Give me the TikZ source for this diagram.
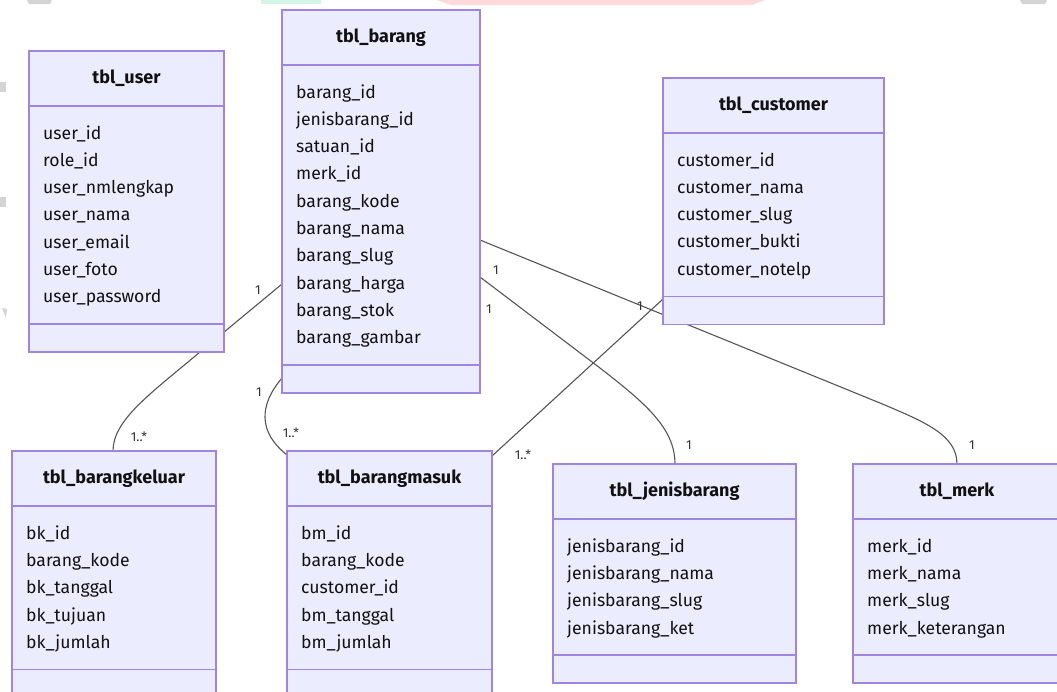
\documentclass[tikz,border=0pt]{standalone}
\usepackage{fontspec}
\setmainfont{Fira Sans}
\usetikzlibrary{calc}
\definecolor{entfill}{HTML}{ECECFF}
\definecolor{entborder}{HTML}{9F84E0}
\definecolor{reltext}{HTML}{333333}
\definecolor{relline}{HTML}{555555}
\definecolor{txt}{HTML}{111111}
\definecolor{wmgray}{HTML}{D4D4D4}
\definecolor{wmgreen}{HTML}{D2F5E8}
\definecolor{wmpink}{HTML}{FFDADA}
\pgfdeclarelayer{background}
\pgfsetlayers{background,main}
\tikzset{
  entity/.style={draw=entborder, fill=entfill, line width=1.3pt, inner sep=0pt, outer sep=0pt},
  divider/.style={draw=entborder, line width=1.3pt},
  entitle/.style={font=\bfseries\fontsize{18}{21}\selectfont, text=txt, inner sep=0pt, text height=12pt, text depth=2pt},
  attr/.style={font=\fontsize{17.6}{21}\selectfont, text=txt, inner sep=0pt, anchor=west, text height=12pt, text depth=0pt},
  rel/.style={draw=relline, line width=1.1pt},
  card/.style={font=\fontsize{13}{15}\selectfont, text=reltext, inner sep=0pt}
}
% one table: name, left, top, right, title, number of columns, columns
\newcommand\erentity[7]{%
  \pgfmathsetmacro\eHead{#3+55}%
  \pgfmathsetmacro\eAttr{#3+55+54+(#6-1)*27.33}%
  \pgfmathsetmacro\eBot{\eAttr+28}%
  \node[entity, anchor=north west, minimum width={(#4-#2)*1pt}, minimum height={(\eBot-#3)*1pt}] (#1) at (#2,#3) {};
  \draw[divider] (#2,\eHead) -- (#4,\eHead);
  \draw[divider] (#2,\eAttr) -- (#4,\eAttr);
  \node[entitle] (#1-title) at ({(#2+#4)/2},#3+27) {#5};
  \foreach \f [count=\i] in {#7} {
    \node[attr] (#1-a\i) at (#2+14,{#3+55+27+(\i-1)*27.33}) {\f};
  }%
}
\begin{document}
\begin{tikzpicture}[x=1pt,y=-1pt]
\useasboundingbox (0,0) rectangle (1057,691);
\clip (0,0) rectangle (1057,691);

% faint marks along the top and left edges
\fill[wmgray] (27,0) -- (52,0) -- (50,4) -- (29,4) -- cycle;
\fill[wmgreen] (261,0) rectangle (321,4);
\fill[wmpink] (437,0) -- (765,0) -- (752,5) -- (450,5) -- cycle;
\fill[wmgray] (1020,0) -- (1047,0) -- (1045,4) -- (1022,4) -- cycle;
\fill[wmgray] (0,82) rectangle (6,92);
\fill[wmgray] (0,197) rectangle (6,207);
\fill[wmgray] (2,308) -- (7,309) -- (6,318) -- cycle;

% tables
\erentity{user}{29}{51}{224}{tbl\_user}{7}{user\_id, role\_id, user\_nmlengkap, user\_nama, user\_email, user\_foto, user\_password}
\erentity{barang}{282}{10}{480}{tbl\_barang}{10}{barang\_id, jenisbarang\_id, satuan\_id, merk\_id, barang\_kode, barang\_nama, barang\_slug, barang\_harga, barang\_stok, barang\_gambar}
\erentity{customer}{663}{78}{884}{tbl\_customer}{5}{customer\_id, customer\_nama, customer\_slug, customer\_bukti, customer\_notelp}
\erentity{keluar}{12}{451}{216}{tbl\_barangkeluar}{5}{bk\_id, barang\_kode, bk\_tanggal, bk\_tujuan, bk\_jumlah}
\erentity{masuk}{287}{451}{492}{tbl\_barangmasuk}{5}{bm\_id, barang\_kode, customer\_id, bm\_tanggal, bm\_jumlah}
\erentity{jenis}{553}{464}{796}{tbl\_jenisbarang}{4}{jenisbarang\_id, jenisbarang\_nama, jenisbarang\_slug, jenisbarang\_ket}
\erentity{merk}{853}{464}{1061}{tbl\_merk}{4}{merk\_id, merk\_nama, merk\_slug, merk\_keterangan}

% relationships, drawn underneath the tables
\begin{pgfonlayer}{background}
  \draw[rel] ($(barang.north west)+(0,274)$) -- (200,352)
    .. controls (150,394) and (113,420) .. ($(keluar.north west)+(101,0)$);
  \draw[rel] ($(barang.north west)+(0,368)$)
    .. controls (259,405) and (258,432) .. ($(masuk.north west)+(0,4)$);
  \draw[rel] ($(customer.north west)+(0,221)$) -- ($(masuk.north east)+(0,5)$);
  \draw[rel] ($(barang.north east)+(0,267)$) -- (600,368)
    .. controls (645,403) and (675,428) .. ($(jenis.north west)+(122,0)$);
  \draw[rel] ($(barang.north east)+(0,230)$) -- (880,403)
    .. controls (925,422) and (957,435) .. ($(merk.north west)+(104,0)$);
\end{pgfonlayer}

% cardinalities
\node[card] (c1a) at (258,290) {1};
\node[card] (c1b) at (139,437) {1..*};
\node[card] (c2a) at (259,392) {1};
\node[card] (c2b) at (291,433) {1..*};
\node[card] (c3a) at (640,306) {1};
\node[card] (c3b) at (523,455) {1..*};
\node[card] (c4a) at (489,309) {1};
\node[card] (c4b) at (689,445) {1};
\node[card] (c5a) at (496,270) {1};
\node[card] (c5b) at (972,445) {1};
\end{tikzpicture}
\end{document}
